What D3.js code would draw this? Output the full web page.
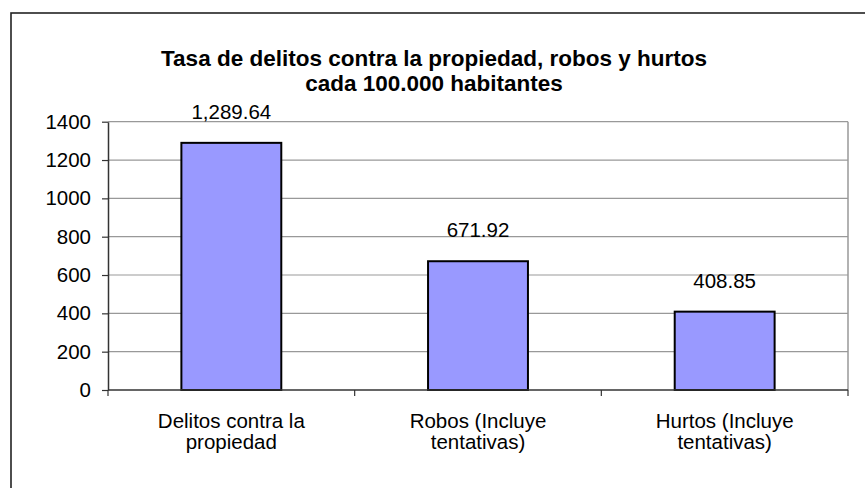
<!DOCTYPE html>
<html>
<head>
<meta charset="utf-8">
<script src="https://cdn.jsdelivr.net/npm/d3@7"></script>
<style>
  body { margin: 0; background: #fff; }
  text { font-family: "Liberation Sans", Arial, sans-serif; fill: #000; }
</style>
</head>
<body>
<div id="chart"></div>
<script>
// data
var categories = [["Delitos contra la", "propiedad"], ["Robos (Incluye", "tentativas)"], ["Hurtos (Incluye", "tentativas)"]];
var values = [1289.64, 671.92, 408.85];
var valueLabels = ["1,289.64", "671.92", "408.85"];
var yTicks = [0, 200, 400, 600, 800, 1000, 1200, 1400];
var titleLines = ["Tasa de delitos contra la propiedad, robos y hurtos", "cada 100.000 habitantes"];

var width = 865, height = 488;
var plotL = 108, plotR = 848, plotT = 121.7, plotB = 390;

var svg = d3.select("#chart").append("svg")
  .attr("width", width)
  .attr("height", height);

// outer frame (right/bottom edges fall outside the picture)
svg.append("rect")
  .attr("x", 11).attr("y", 13)
  .attr("width", 900).attr("height", 520)
  .attr("fill", "none")
  .attr("stroke", "#222")
  .attr("stroke-width", 1.6);

var x = d3.scaleBand()
  .domain(d3.range(categories.length))
  .range([plotL, plotR])
  .paddingInner(0)
  .paddingOuter(0);

var y = d3.scaleLinear()
  .domain([0, 1400])
  .range([plotB, plotT]);

// gridlines
svg.append("g")
  .selectAll("line")
  .data(yTicks.filter(function(d){ return d > 0; }))
  .enter().append("line")
  .attr("x1", plotL).attr("x2", plotR)
  .attr("y1", function(d){ return y(d); })
  .attr("y2", function(d){ return y(d); })
  .attr("stroke", "#999")
  .attr("stroke-width", 1.2);

// plot border right
svg.append("line")
  .attr("x1", plotR).attr("x2", plotR)
  .attr("y1", plotT).attr("y2", plotB)
  .attr("stroke", "#999")
  .attr("stroke-width", 1.5);

// bars
var bw = x.bandwidth() * 0.405;
svg.append("g")
  .selectAll("rect")
  .data(values)
  .enter().append("rect")
  .attr("x", function(d, i){ return x(i) + x.bandwidth()/2 - bw/2; })
  .attr("y", function(d){ return y(d); })
  .attr("width", bw)
  .attr("height", function(d){ return y(0) - y(d); })
  .attr("fill", "#9999ff")
  .attr("stroke", "#000")
  .attr("stroke-width", 2);

// value labels
svg.append("g")
  .selectAll("text")
  .data(values)
  .enter().append("text")
  .attr("x", function(d, i){ return x(i) + x.bandwidth()/2; })
  .attr("y", function(d){ return y(d) - 24; })
  .attr("text-anchor", "middle")
  .style("font-size", "20.5px")
  .text(function(d, i){ return valueLabels[i]; });

// y axis
var yAxis = svg.append("g")
  .attr("transform", "translate(" + plotL + ",0)")
  .call(d3.axisLeft(y).tickValues(yTicks).tickFormat(d3.format("d"))
    .tickSize(6).tickPadding(11).tickSizeOuter(0));
yAxis.select(".domain").attr("stroke", "#333").attr("stroke-width", 1.5);
yAxis.selectAll(".tick line").attr("stroke", "#333").attr("stroke-width", 1.2);
yAxis.selectAll(".tick text")
  .style("font-size", "20.5px")
  .style("font-family", "'Liberation Sans', Arial, sans-serif")
  .attr("fill", "#000");

// x axis
var xEdges = d3.range(categories.length + 1).map(function(i){
  return i < categories.length ? x(i) : plotR;
});
svg.append("line")
  .attr("x1", plotL).attr("x2", plotR)
  .attr("y1", plotB).attr("y2", plotB)
  .attr("stroke", "#333")
  .attr("stroke-width", 1.5);
svg.append("g")
  .selectAll("line")
  .data(xEdges)
  .enter().append("line")
  .attr("x1", function(d){ return d; })
  .attr("x2", function(d){ return d; })
  .attr("y1", plotB).attr("y2", plotB + 6)
  .attr("stroke", "#333")
  .attr("stroke-width", 1.2);

// category labels
var catG = svg.append("g")
  .selectAll("text")
  .data(categories)
  .enter().append("text")
  .attr("text-anchor", "middle")
  .style("font-size", "20.5px")
  .attr("x", function(d, i){ return x(i) + x.bandwidth()/2; })
  .attr("y", 428);
catG.selectAll("tspan")
  .data(function(d){ return d; })
  .enter().append("tspan")
  .attr("x", function(){ return d3.select(this.parentNode).attr("x"); })
  .attr("dy", function(d, j){ return j === 0 ? 0 : 21; })
  .text(function(d){ return d; });

// title
svg.append("text")
  .attr("x", 434)
  .attr("y", 66)
  .attr("text-anchor", "middle")
  .style("font-size", "22.5px")
  .style("font-weight", "bold")
  .selectAll("tspan")
  .data(titleLines)
  .enter().append("tspan")
  .attr("x", 434)
  .attr("dy", function(d, i){ return i === 0 ? 0 : 25; })
  .text(function(d){ return d; });
</script>
</body>
</html>
